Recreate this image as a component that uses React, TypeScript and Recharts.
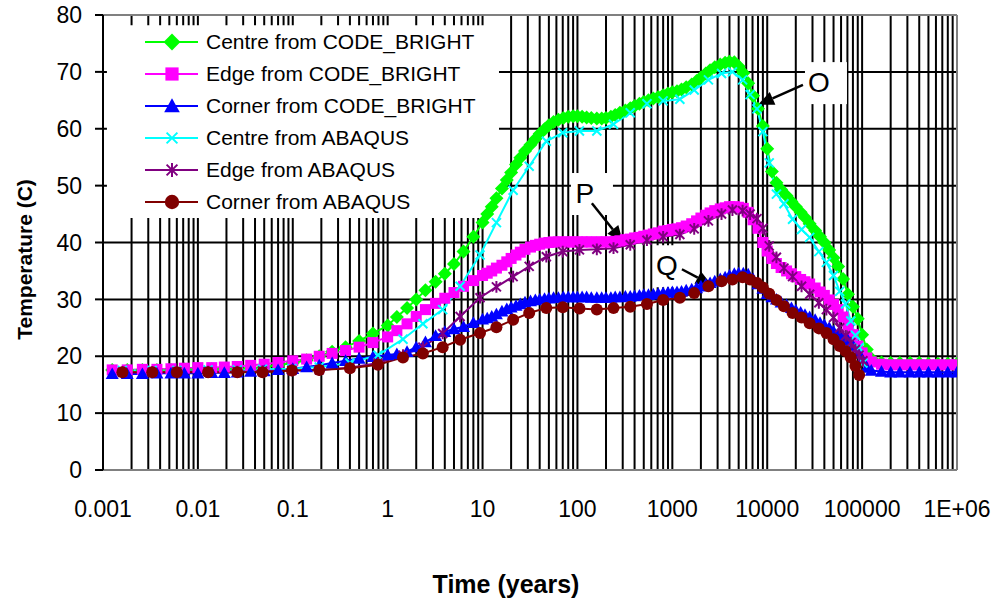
import { LineChart, Line, XAxis, YAxis, CartesianGrid, Legend, ReferenceLine, ReferenceArea, Label } from "recharts";

const FONT = "'Liberation Sans', Arial, sans-serif";

// axis ticks
const decadeTicks = [0.001, 0.01, 0.1, 1, 10, 100, 1000, 10000, 100000, 1000000];
const decadeLabels = ["0.001", "0.01", "0.1", "1", "10", "100", "1000", "10000", "100000", "1E+06"];
const minorSteps = [1, 2, 3, 4, 5, 6, 7, 8, 9];
const tempTicks = [0, 10, 20, 30, 40, 50, 60, 70, 80];

// CODE_BRIGHT results (time in years, temperature in C)
const cbTime = [
  0.00125, 0.0018, 0.0026, 0.0037, 0.0052, 0.0072, 0.01, 0.014, 0.019, 0.026, 0.036, 0.05, 0.07, 0.1, 0.14, 0.19, 0.26, 0.36, 0.5, 0.7, 1,
  1.25, 1.6, 2, 2.5, 3.2, 4, 5, 6.3, 8, 10,
  11.2, 12.5, 14, 16, 18, 20, 22.5, 25, 28, 32, 36, 40, 45, 50, 56, 63, 71, 80, 90, 100,
  112, 125, 140, 160, 180, 200, 225, 250, 280, 320, 360, 400, 450, 500, 560, 630, 710, 800, 900, 1000,
  1120, 1250, 1400, 1600, 1800, 2000, 2250, 2500, 2800, 3200, 3600, 4000,
  4500, 5000, 5600, 6300, 7100, 8000, 9000, 10000,
  11200, 12500, 14000, 16000, 18000, 20000, 22500, 25000, 28000, 32000, 36000, 40000, 45000, 50000, 56000, 63000, 71000, 80000, 90000, 100000,
  112000, 125000, 160000, 200000, 250000, 320000, 400000, 500000, 630000, 800000, 1000000,
];
const cbCentre = [
  17.6, 17.6, 17.6, 17.6, 17.6, 17.7, 17.7, 17.7, 17.8, 17.8, 17.9, 18.1, 18.4, 18.8, 19.3, 20.0, 20.8, 21.6, 22.7, 24.0, 25.4,
  26.9, 28.5, 30.0, 31.6, 33.1, 34.5, 36.2, 38.4, 41.0, 43.5,
  45.0, 46.3, 47.8, 49.5, 51.0, 52.3, 53.7, 54.9, 56.1, 57.2, 58.2, 59.1, 59.9, 60.6, 61.2, 61.6, 61.9, 62.1, 62.2, 62.2,
  62.1, 62.0, 61.9, 61.8, 61.8, 61.9, 62.1, 62.4, 62.8, 63.2, 63.6, 64.0, 64.4, 64.7, 65.0, 65.3, 65.6, 65.9, 66.2, 66.4,
  66.6, 66.9, 67.3, 67.8, 68.4, 69.0, 69.7, 70.3, 70.8, 71.3, 71.6, 71.8,
  71.7, 71.0, 69.8, 68.0, 65.8, 63.5, 60.5, 56.5,
  52.5, 50.5, 49.3, 48.2, 47.2, 46.3, 45.3, 44.4, 43.3, 42.1, 41.0, 40.0, 38.7, 37.3, 35.8, 33.6, 30.9, 28.7, 26.6, 23.8,
  21.2, 19.6, 18.9, 18.8, 18.8, 18.8, 18.8, 18.7, 18.7, 18.7, 18.7,
];
const cbEdge = [
  17.6, 17.6, 17.7, 17.7, 17.8, 17.9, 18.0, 18.0, 18.1, 18.2, 18.4, 18.6, 18.9, 19.2, 19.5, 20.0, 20.5, 21.0, 21.6, 22.4, 23.4,
  24.5, 25.7, 27.0, 28.2, 29.3, 30.2, 31.2, 32.3, 33.3, 34.2,
  34.6, 35.0, 35.5, 36.0, 36.6, 37.2, 37.8, 38.3, 38.8, 39.2, 39.5, 39.7, 39.9, 40.0, 40.1, 40.1, 40.1, 40.1, 40.1, 40.1,
  40.1, 40.1, 40.1, 40.1, 40.1, 40.1, 40.1, 40.2, 40.3, 40.5, 40.6, 40.8, 40.9, 41.1, 41.3, 41.5, 41.7, 42.0, 42.1, 42.3,
  42.4, 42.6, 42.9, 43.3, 43.8, 44.3, 44.8, 45.2, 45.6, 45.9, 46.1, 46.3,
  46.3, 46.2, 46.0, 45.3, 44.0, 42.5, 40.0, 38.5,
  37.2, 36.3, 35.6, 35.0, 34.5, 34.0, 33.5, 33.1, 32.7, 32.0, 31.3, 30.7, 29.9, 29.1, 28.2, 26.9, 25.5, 23.8, 21.8, 20.6,
  19.7, 19.0, 18.6, 18.5, 18.5, 18.5, 18.5, 18.5, 18.5, 18.5, 18.5,
];
const cbCorner = [
  16.9, 16.9, 16.9, 17.0, 17.0, 17.0, 17.0, 17.1, 17.1, 17.2, 17.3, 17.4, 17.6, 17.8, 18.1, 18.4, 18.8, 19.2, 19.6, 19.9, 20.2,
  20.4, 20.8, 21.6, 22.5, 23.6, 24.3, 24.8, 25.2, 25.9, 26.5,
  26.7, 27.0, 27.4, 27.9, 28.3, 28.6, 28.9, 29.2, 29.5, 29.7, 29.9, 30.0, 30.1, 30.2, 30.3, 30.3, 30.4, 30.4, 30.4, 30.4,
  30.4, 30.4, 30.3, 30.3, 30.3, 30.3, 30.3, 30.4, 30.4, 30.5, 30.5, 30.6, 30.7, 30.8, 30.8, 30.9, 31.0, 31.1, 31.2, 31.3,
  31.3, 31.4, 31.6, 31.8, 32.0, 32.3, 32.6, 32.9, 33.2, 33.6, 33.9, 34.2,
  34.5, 34.6, 34.6, 34.4, 33.6, 32.7, 31.9, 31.0,
  30.4, 30.0, 29.5, 29.0, 28.5, 28.1, 27.7, 27.3, 26.9, 26.4, 25.9, 25.5, 25.0, 24.4, 23.9, 23.4, 22.8, 21.9, 20.6, 19.5,
  18.0, 17.5, 17.3, 17.2, 17.2, 17.2, 17.2, 17.2, 17.2, 17.2, 17.2,
];

// ABAQUS results
const abTime = [
  0.0016, 0.0033, 0.006, 0.0128, 0.026, 0.048, 0.098, 0.19, 0.4, 0.79,
  1.45, 2.35, 3.8, 5.8, 9.4, 14, 21, 31, 47, 70,
  105, 160, 240, 360, 540, 800, 1200, 1700, 2400, 3300,
  4300, 5500, 6600, 7800, 9000, 10500, 12500, 15000, 18500, 23000,
  28000, 35000, 42000, 50000, 58000, 67000, 76000, 85000, 93000, 102000,
];
const abCentre = [
  17.5, 17.5, 17.5, 17.6, 17.6, 17.7, 17.8, 18.1, 18.8, 20.2,
  23.0, 25.7, 28.2, 32.3, 37.8, 43.5, 49.2, 53.4, 57.8, 59.3,
  59.6, 59.6, 60.8, 62.8, 64.4, 64.9, 65.2, 66.8, 68.6, 69.7,
  70.0, 68.6, 66.0, 63.5, 59.5, 54.0, 48.5, 46.8, 44.1, 42.3,
  40.9, 38.4, 36.5, 34.2, 31.4, 29.2, 26.2, 23.7, 21.5, 18.8,
];
const abEdge = [
  17.2, 17.2, 17.3, 17.3, 17.3, 17.4, 17.5, 17.6, 18.0, 18.8,
  20.2, 21.6, 24.0, 27.0, 30.3, 32.2, 34.0, 35.8, 37.5, 38.4,
  38.7, 38.8, 39.0, 39.6, 40.4, 41.0, 41.4, 42.4, 43.8, 45.0,
  45.7, 45.6, 45.0, 44.2, 42.5, 39.4, 37.4, 35.5, 34.0, 32.3,
  30.9, 29.4, 28.2, 26.8, 25.0, 23.6, 22.4, 21.2, 20.2, 19.2,
];
const abCorner = [
  17.2, 17.2, 17.2, 17.2, 17.2, 17.2, 17.5, 17.6, 17.9, 18.5,
  19.8, 20.5, 21.6, 22.9, 24.1, 25.1, 26.4, 27.6, 28.5, 28.6,
  28.4, 28.2, 28.5, 28.7, 29.2, 29.9, 30.3, 31.1, 32.3, 33.2,
  33.5, 33.9, 33.5, 32.9, 32.1, 31.0, 29.9, 28.8, 27.6, 26.8,
  25.8, 24.9, 24.1, 23.0, 21.8, 20.9, 19.8, 18.3, 16.7,
];

const seriesNames = [
  "Centre from CODE_BRIGHT",
  "Edge from CODE_BRIGHT",
  "Corner from CODE_BRIGHT",
  "Centre from ABAQUS",
  "Edge from ABAQUS",
  "Corner from ABAQUS",
];
const seriesColors = ["#00ff00", "#ff00ff", "#0000ff", "#00ffff", "#800080", "#800000"];
const seriesShapes = ["diamond", "square", "triangle", "cross", "star", "circle"];

// annotation letters: label position, arrow tail, arrow head (time, temp)
const noteLetters = ["O", "P", "Q"];
const noteAt = [[35100, 68.2], [120, 48.7], [877, 36.0]];
const noteTail = [[23800, 67.7], [142, 46.9], [1262, 35.3]];
const noteHead = [[7980, 64.2], [301, 40.1], [2610, 32.5]];

// white box behind the legend (time range, temp range)
const legendBoxTime = [0.0011, 14.9];
const legendBoxTemp = [44.3, 78.2];

const toPoints = (times: number[], vals: number[]) => vals.map((v, i) => ({ t: times[i], v }));

const seriesData = [
  toPoints(cbTime, cbCentre),
  toPoints(cbTime, cbEdge),
  toPoints(cbTime, cbCorner),
  toPoints(abTime, abCentre),
  toPoints(abTime, abEdge),
  toPoints(abTime, abCorner),
];

const gridTicks = decadeTicks.flatMap((d, i) =>
  i === decadeTicks.length - 1 ? [d] : minorSteps.map((m) => d * m)
);

const Marker = ({ shape, cx, cy, color, k = 1 }: { shape: string; cx: number; cy: number; color: string; k?: number }) => {
  if (cx == null || cy == null) return null;
  switch (shape) {
    case "diamond": {
      const r = 7 * k;
      return <polygon points={`${cx},${cy - r} ${cx + r},${cy} ${cx},${cy + r} ${cx - r},${cy}`} fill={color} />;
    }
    case "square": {
      const r = 5.5 * k;
      return <rect x={cx - r} y={cy - r} width={2 * r} height={2 * r} fill={color} />;
    }
    case "triangle": {
      const r = 6.5 * k;
      return <polygon points={`${cx},${cy - r} ${cx + r},${cy + r * 0.8} ${cx - r},${cy + r * 0.8}`} fill={color} />;
    }
    case "cross": {
      const r = 4.5 * k;
      return <path d={`M${cx - r},${cy - r}L${cx + r},${cy + r}M${cx - r},${cy + r}L${cx + r},${cy - r}`} stroke={color} strokeWidth={2} />;
    }
    case "star": {
      const r = 4.5 * k;
      return (
        <path
          d={`M${cx - r},${cy - r}L${cx + r},${cy + r}M${cx - r},${cy + r}L${cx + r},${cy - r}M${cx},${cy - r * 1.3}L${cx},${cy + r * 1.3}`}
          stroke={color}
          strokeWidth={2}
        />
      );
    }
    default:
      return <circle cx={cx} cy={cy} r={6 * k} fill={color} />;
  }
};

const XTick = ({ x, y, payload }: any) => {
  const i = decadeTicks.findIndex((d) => Math.abs(Math.log10(d) - Math.log10(payload.value)) < 1e-6);
  if (i < 0) return <g />;
  return (
    <text x={x} y={y} dy="0.71em" textAnchor="middle" fontSize={23} fontFamily={FONT} fill="#000">
      {decadeLabels[i]}
    </text>
  );
};

const YTick = ({ x, y, payload }: any) => (
  <text x={x} y={y} dy="0.355em" textAnchor="end" fontSize={23} fontFamily={FONT} fill="#000">
    {payload.value}
  </text>
);

const Arrow = (p: any) => {
  const { x1, y1, x2, y2 } = p;
  const a = Math.atan2(y2 - y1, x2 - x1);
  const L = 16;
  const W = 7;
  const bx = x2 - L * Math.cos(a);
  const by = y2 - L * Math.sin(a);
  return (
    <g>
      <line x1={x1} y1={y1} x2={bx} y2={by} stroke="#000" strokeWidth={2.5} />
      <polygon
        points={`${x2},${y2} ${bx + W * Math.sin(a)},${by - W * Math.cos(a)} ${bx - W * Math.sin(a)},${by + W * Math.cos(a)}`}
        fill="#000"
      />
    </g>
  );
};

// letter in a white box, drawn as a zero-length reference segment so it layers with the arrows
const noteShape = (letter: string) => (p: any) => (
  <g>
    <rect x={p.x1 - 14} y={p.y1 - 20} width={42} height={42} fill="#fff" />
    <text x={p.x1} y={p.y1} dy="0.36em" textAnchor="middle" fontSize={28} fontFamily={FONT} fill="#000">
      {letter}
    </text>
  </g>
);

const LegendBox = () => (
  <div style={{ width: 392, height: 193, paddingTop: 1, boxSizing: "border-box", fontFamily: FONT, fontSize: 21, color: "#000" }}>
    {seriesNames.map((name, i) => (
      <div key={name} style={{ display: "flex", alignItems: "center", height: 32 }}>
        <svg width={99} height={32} style={{ flex: "none" }}>
          <line x1={38} y1={16} x2={91} y2={16} stroke={seriesColors[i]} strokeWidth={2} />
          <Marker shape={seriesShapes[i]} cx={65} cy={16} color={seriesColors[i]} k={1.2} />
        </svg>
        <span style={{ whiteSpace: "nowrap" }}>{name}</span>
      </div>
    ))}
  </div>
);

export default function App() {
  return (
    <div style={{ position: "absolute", left: 0, top: 0, background: "#fff" }}>
      <LineChart width={997} height={600} margin={{ top: 15, right: 40, bottom: 70, left: 40 }}>
        <CartesianGrid stroke="#000" strokeWidth={2} />
        <XAxis
          dataKey="t"
          type="number"
          scale="log"
          domain={[0.001, 1000000]}
          allowDataOverflow
          ticks={gridTicks}
          interval={0}
          tick={<XTick />}
          tickLine={false}
          tickSize={0}
          tickMargin={31}
          height={60}
          axisLine={{ stroke: "#808080", strokeWidth: 2 }}
        >
          <Label
            content={({ viewBox }: any) => (
              <text x={viewBox.x + viewBox.width / 2 - 24} y={viewBox.y + 123} textAnchor="middle" fontSize={25} fontWeight="bold" fontFamily={FONT} fill="#000">
                Time (years)
              </text>
            )}
          />
        </XAxis>
        <YAxis
          type="number"
          domain={[0, 80]}
          ticks={tempTicks}
          interval={0}
          width={63}
          tick={<YTick />}
          tickSize={8}
          tickMargin={13}
          tickLine={{ stroke: "#000", strokeWidth: 2 }}
          axisLine={{ stroke: "#000", strokeWidth: 2 }}
        >
          <Label
            content={({ viewBox }: any) => (
              <text
                transform={`translate(24, ${viewBox.y + viewBox.height / 2 + 17}) rotate(-90)`}
                dy="0.36em"
                textAnchor="middle"
                fontSize={21}
                fontWeight="bold"
                fontFamily={FONT}
                fill="#000"
              >
                Temperature (C)
              </text>
            )}
          />
        </YAxis>
        <ReferenceLine y={80} stroke="#808080" strokeWidth={2} />
        <ReferenceLine x={1000000} stroke="#808080" strokeWidth={2} />
        <ReferenceArea
          x1={legendBoxTime[0]}
          x2={legendBoxTime[1]}
          y1={legendBoxTemp[0]}
          y2={legendBoxTemp[1]}
          fill="#fff"
          fillOpacity={1}
          stroke="none"
        />
        {seriesData.map((data, i) => (
          <Line
            key={seriesNames[i]}
            data={data}
            dataKey="v"
            name={seriesNames[i]}
            type="linear"
            stroke={seriesColors[i]}
            strokeWidth={2}
            dot={(p: any) => (
              <g key={`${i}-${p.index}`}>
                <Marker shape={seriesShapes[i]} cx={p.cx} cy={p.cy} color={seriesColors[i]} />
              </g>
            )}
            activeDot={false}
            isAnimationActive={false}
          />
        ))}
        {noteLetters.map((letter, i) => (
          <ReferenceLine
            key={`note-${letter}`}
            segment={[
              { x: noteAt[i][0], y: noteAt[i][1] },
              { x: noteAt[i][0], y: noteAt[i][1] },
            ]}
            shape={noteShape(letter)}
          />
        ))}
        {noteLetters.map((letter, i) => (
          <ReferenceLine
            key={`arrow-${letter}`}
            segment={[
              { x: noteTail[i][0], y: noteTail[i][1] },
              { x: noteHead[i][0], y: noteHead[i][1] },
            ]}
            shape={Arrow}
          />
        ))}
        <Legend
          layout="vertical"
          align="center"
          verticalAlign="middle"
          wrapperStyle={{ left: 107, top: 25, width: 392, height: 193 }}
          content={() => <LegendBox />}
        />
      </LineChart>
    </div>
  );
}
